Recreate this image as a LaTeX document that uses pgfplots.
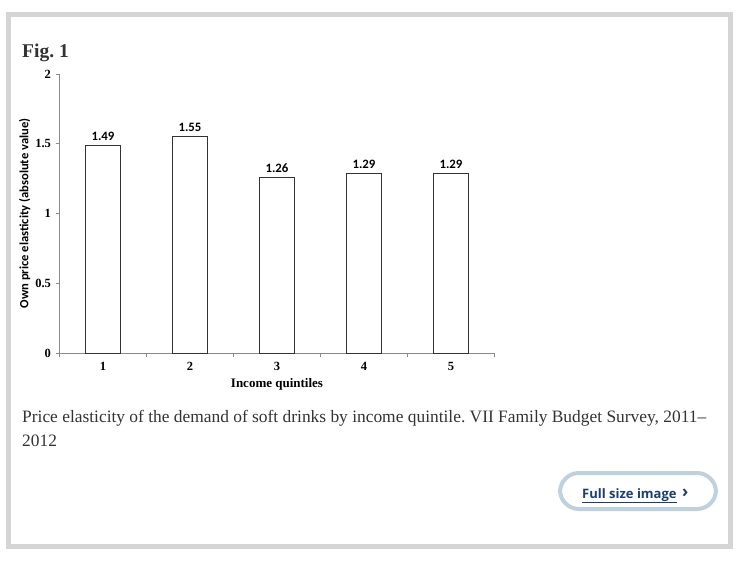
\documentclass[border=0pt]{standalone}
\usepackage{pgfplots}
\pgfplotsset{compat=1.18}
\usepackage{fontspec}
\setmainfont{Liberation Serif}
\newfontfamily\carlito{Carlito}
\newfontfamily\btnfont{Open Sans}
\definecolor{framegray}{HTML}{D5D5D5}
\definecolor{axgray}{HTML}{8A8A8A}
\definecolor{btnborder}{HTML}{BFD1DF}
\definecolor{btnblue}{HTML}{1C3F6E}
\definecolor{txt}{HTML}{333333}
\frenchspacing
\pgfplotstableread{
x y
0.5 1.49
1.5 1.55
2.5 1.26
3.5 1.29
4.5 1.29
}\datatable
\begin{document}
\begin{tikzpicture}
\path[use as bounding box] (0,0) rectangle (739pt,-565pt);
\fill[white] (0,0) rectangle (739pt,-565pt);
\draw[framegray, line width=5pt] (8.5pt,-14.5pt) rectangle (730.5pt,-546.5pt);
\node[anchor=base west, inner sep=0pt, text=txt, font=\fontsize{19.5}{22}\selectfont\bfseries] at (22pt,-57pt) {Fig. 1};
\begin{axis}[
  at={(59.5pt,-353pt)}, anchor=south west,
  scale only axis, width=435pt, height=279pt,
  xmin=0, xmax=5, ymin=0, ymax=2,
  axis lines=left,
  axis line style={axgray, line width=0.8pt, -},
  xtick={0,1,2,3,4,5},
  xticklabels={},
  extra x ticks={0.5,1.5,2.5,3.5,4.5},
  extra x tick labels={1,2,3,4,5},
  extra x tick style={major tick length=0pt, tick style={draw=none}},
  ytick={0,0.5,1,1.5,2},
  yticklabels={0,0.5,1,1.5,2},
  tick style={axgray, line width=0.8pt},
  major tick length=4pt,
  tick align=outside,
  x tick label style={font=\fontsize{12.5}{13}\selectfont\bfseries, yshift=-6pt},
  y tick label style={font=\fontsize{12.5}{13}\selectfont\bfseries, xshift=-1pt},
  xlabel={Income quintiles},
  xlabel style={font=\fontsize{13}{14}\selectfont\bfseries, yshift=3pt},
  ylabel={\carlito\bfseries Own price elasticity (absolute value)},
  ylabel style={font=\fontsize{12.6}{13}\selectfont\bfseries, yshift=-2pt},
  clip=false,
]
\addplot[ybar, bar width=35pt, draw=black!80, line width=0.9pt, fill=white,
  nodes near coords, point meta=explicit symbolic,
  every node near coord/.append style={font=\carlito\bfseries\fontsize{12.8}{13}\selectfont, yshift=1pt}]
  table[x=x, y=y, meta=y] {\datatable};
\end{axis}
\node[anchor=base west, inner sep=0pt, text=txt, font=\fontsize{17.4}{19}\selectfont] at (22pt,-422pt) {Price elasticity of the demand of soft drinks by income quintile. VII Family Budget Survey, 2011–};
\node[anchor=base west, inner sep=0pt, text=txt, font=\fontsize{17.4}{19}\selectfont] at (22pt,-446pt) {2012};
\draw[btnborder, line width=4pt, rounded corners=19pt] (560pt,-473pt) rectangle (716pt,-509pt);
\node[anchor=base west, inner sep=0pt, text=btnblue, font=\btnfont\fontsize{13}{15}\selectfont\bfseries] at (582pt,-498pt) {\underline{Full size image}};
\node[anchor=base west, inner sep=0pt, text=btnblue, font=\btnfont\fontsize{17}{18}\selectfont\bfseries] at (682pt,-497pt) {›};
\end{tikzpicture}
\end{document}
